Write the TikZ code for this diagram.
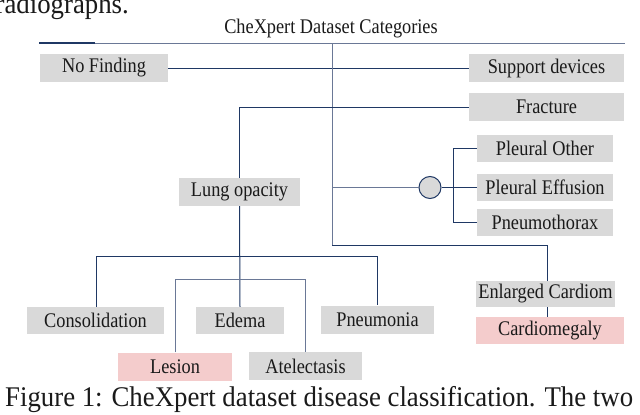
\documentclass[tikz,border=0pt]{standalone}
\usepackage{fontspec}
\setmainfont{Liberation Serif}
\newfontfamily\boxfont[FakeStretch=0.88]{Liberation Serif}
\newfontfamily\capfont[FakeStretch=0.94]{Liberation Serif}
\definecolor{navy}{HTML}{1F3864}
\definecolor{trunkc}{HTML}{6A7896}
\definecolor{boxgray}{HTML}{D9D9D9}
\definecolor{boxpink}{HTML}{F4CCCC}
\definecolor{txt}{HTML}{1A1A1A}
\begin{document}
\begin{tikzpicture}[x=1pt,y=-1pt,
  cat/.style={fill=boxgray,inner sep=0pt,minimum height=28pt,text=txt,
    font=\boxfont\fontsize{20.8}{24}\selectfont},
  catpink/.style={cat,fill=boxpink},
  link/.style={draw=navy,line width=1pt},
  trunk/.style={draw=trunkc,line width=0.9pt}]
\useasboundingbox (0,0) rectangle (640,415);
\fill[white] (0,0) rectangle (640,415);
% outside texts
\node[anchor=base east,inner sep=0pt,text=txt,font=\capfont\fontsize{28.5}{32}\selectfont] (prev) at (129,13) {radiographs.};
\node[anchor=base,inner sep=0pt,text=txt,font=\boxfont\fontsize{20.8}{24}\selectfont] (title) at (331,33) {CheXpert Dataset Categories};
\node[anchor=base west,inner sep=0pt,text=txt,font=\capfont\fontsize{28.5}{32}\selectfont] (caption) at (5,406) {Figure 1: CheXpert dataset disease classification. The two};
% top rule
\coordinate (ruleL) at (39,43);
\coordinate (ruleR) at (625,43);
\coordinate (ruleM) at (95,43);
\draw[draw=trunkc,line width=1pt] (ruleL) -- (ruleR);
\draw[draw=navy,line width=1.5pt] (ruleL) -- (ruleM);
% nodes
\node[cat,minimum width=128pt] (nofind) at (104,68) {No Finding};
\node[cat,minimum width=155pt] (support) at (546.5,68) {Support devices};
\node[cat,minimum width=155pt] (fracture) at (546.5,107) {Fracture};
\node[cat,minimum width=136pt,minimum height=27pt] (plother) at (545,148.5) {Pleural Other};
\node[cat,minimum width=136pt,minimum height=27pt] (pleff) at (545,187.5) {Pleural Effusion};
\node[cat,minimum width=136pt,minimum height=27pt] (pneumo) at (545,222.5) {Pneumothorax};
\node[circle,draw=navy,line width=1pt,fill=boxgray,minimum size=22pt,inner sep=0pt] (hub) at (430,187.5) {};
\node[cat,minimum width=121pt] (lung) at (239.5,192) {Lung opacity};
\node[cat,minimum width=137pt,minimum height=27pt] (consol) at (95.5,320.5) {Consolidation};
\node[cat,minimum width=88pt,minimum height=27pt] (edema) at (240,320.5) {Edema};
\node[cat,minimum width=113pt] (pneumonia) at (377.5,319.5) {Pneumonia};
\node[catpink,minimum width=114pt] (lesion) at (175,366.5) {Lesion};
\node[cat,minimum width=113pt] (atel) at (305.5,366) {Atelectasis};
\node[cat,minimum width=139pt,minimum height=26pt] (enlarged) at (545.5,294) {Enlarged Cardiom};
\node[catpink,minimum width=148pt,minimum height=27pt] (cardio) at (550,330.5) {Cardiomegaly};
% junction coordinates
\coordinate (tTop) at (332,43);
\coordinate (tHub) at (332,187.5);
\coordinate (tBot) at (332,245);
\coordinate (fracL) at (239.5,107);
\coordinate (cardTop) at (547,245);
\coordinate (brTop) at (453,148.5);
\coordinate (brBot) at (453,222.5);
\coordinate (lungL) at (96,256);
\coordinate (lungR) at (377.5,256);
\coordinate (subL) at (175,279);
\coordinate (subR) at (305.5,279);
% connectors
\draw[link] (nofind.east) -- (support.west);
\draw[trunk] (tTop) -- (tBot);
\draw[link] (tBot) -- (cardTop) -- (enlarged.north -| cardTop);
\draw[link] (enlarged.south -| cardTop) -- (cardio.north -| cardTop);
\draw[link] (fracture.west) -- (fracL) -- (lung.north);
\draw[trunk] (tHub) -- (hub.west);
\draw[link] (hub.east) -- (pleff.west);
\draw[link] (plother.west) -- (brTop) -- (brBot) -- (pneumo.west);
\draw[link] (lung.south) -- (edema.north);
\draw[link] (consol.north -| lungL) -- (lungL) -- (lungR) -- (pneumonia.north);
\draw[trunk] (lesion.north) -- (subL) -- (subR) -- (atel.north);
\end{tikzpicture}
\end{document}
